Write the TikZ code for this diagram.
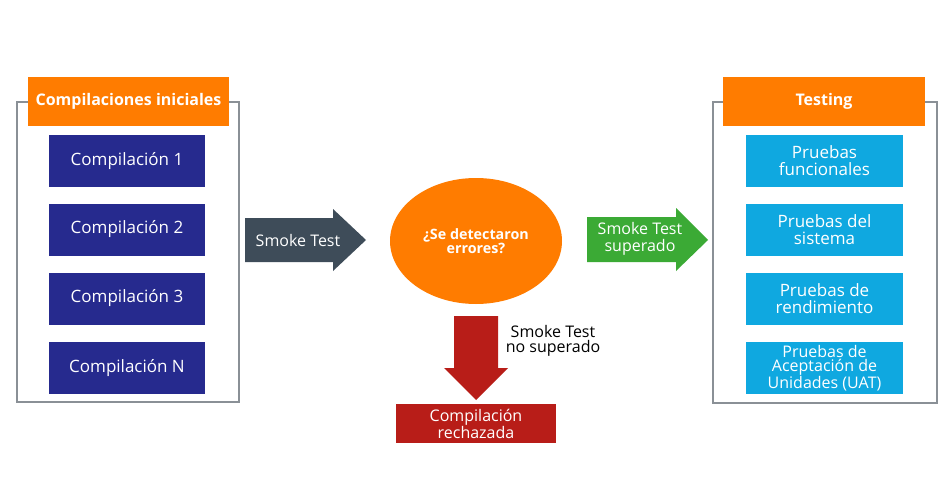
\documentclass[tikz,border=0pt]{standalone}
\usepackage{fontspec}
\setmainfont{Open Sans}
\usetikzlibrary{shapes.geometric}
\definecolor{headorange}{HTML}{FF7C00}
\definecolor{compblue}{HTML}{262A8E}
\definecolor{testblue}{HTML}{0FA8E0}
\definecolor{smokegray}{HTML}{3E4C59}
\definecolor{passgreen}{HTML}{3BAA35}
\definecolor{failred}{HTML}{B81D18}
\definecolor{framegray}{HTML}{8A9096}

\begin{document}
\begin{tikzpicture}[x=1pt,y=-1pt,
  frame/.style={draw=framegray, line width=2pt},
  header/.style={fill=headorange, text=white, font=\bfseries\fontsize{16}{17}\selectfont, minimum width=201pt, minimum height=49pt, inner sep=0pt},
  compbox/.style={fill=compblue, text=white, font=\fontsize{17}{17}\selectfont, minimum width=156pt, minimum height=52pt, inner sep=0pt, align=center},
  testbox/.style={compbox, fill=testblue},
  arrowtext/.style={text=white, font=\fontsize{16}{17}\selectfont, align=center}]
\fill[white] (0,0) rectangle (950,500);
\useasboundingbox (0,0) rectangle (950,500);
% left group
\draw[frame] (17,102) rectangle (239,402);
\node[header] (inicial) at (128.5,101.5) {Compilaciones iniciales};
\node[compbox] (comp1) at (127,161) {Compilación 1};
\node[compbox] (comp2) at (127,229.5) {Compilación 2};
\node[compbox] (comp3) at (127,298.5) {Compilación 3};
\node[compbox] (compN) at (127,368) {Compilación N};
% smoke test
\fill[smokegray] (245,218) -- (333,218) -- (333,209) -- (366,240) -- (333,271) -- (333,262) -- (245,262) -- cycle;
\node[arrowtext] (smoke) at (298,240) {Smoke Test};
% decision
\node[ellipse, fill=headorange, minimum width=172pt, minimum height=126pt, inner sep=0pt, text=white, align=center, font=\bfseries\fontsize{14.3}{14.5}\selectfont] (errores) at (476,241) {¿Se detectaron\\errores?};
% passed
\fill[passgreen] (587,217) -- (676,217) -- (676,208) -- (708,240) -- (676,271) -- (676,262) -- (587,262) -- cycle;
\node[arrowtext] (superado) at (640,239) {Smoke Test\\superado};
% failed
\fill[failred] (454,316) -- (498,316) -- (498,368) -- (508,368) -- (476,400) -- (444,368) -- (454,368) -- cycle;
\node[font=\fontsize{16}{15.5}\selectfont, align=center] (nosuperado) at (553,341) {Smoke Test\\no superado};
\node[fill=failred, text=white, minimum width=160pt, minimum height=39pt, inner sep=0pt, align=center, font=\fontsize{16}{15.5}\selectfont] (rechazada) at (476,423.5) {Compilación\\rechazada};
% right group
\draw[frame] (713,102) rectangle (937,403);
\node[header, minimum width=202pt] (testing) at (824,101.5) {Testing};
\node[testbox, minimum width=157pt] (prueba1) at (824.5,161) {Pruebas\\funcionales};
\node[testbox, minimum width=157pt] (prueba2) at (824.5,229.5) {Pruebas del\\sistema};
\node[testbox, minimum width=157pt] (prueba3) at (824.5,298.5) {Pruebas de\\rendimiento};
\node[testbox, minimum width=157pt, font=\fontsize{16}{14.5}\selectfont] (prueba4) at (824.5,368) {Pruebas de\\Aceptación de\\Unidades (UAT)};
\end{tikzpicture}
\end{document}
